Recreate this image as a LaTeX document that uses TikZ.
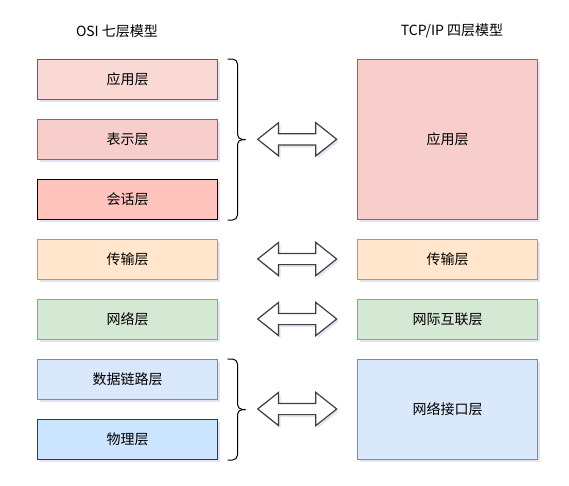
\documentclass[tikz,border=0pt]{standalone}
\usepackage{fontspec}
\setmainfont{Noto Sans CJK SC}
\usetikzlibrary{shapes.arrows, shadows}

\definecolor{appfill}{HTML}{FAD9D5}
\definecolor{appline}{HTML}{AE4132}
\definecolor{prefill}{HTML}{F8CECC}
\definecolor{preline}{HTML}{B85450}
\definecolor{sesfill}{HTML}{FFC4BD}
\definecolor{trafill}{HTML}{FFE6CC}
\definecolor{traline}{HTML}{D79B00}
\definecolor{netfill}{HTML}{D5E8D4}
\definecolor{netline}{HTML}{82B366}
\definecolor{linkfill}{HTML}{DAE8FC}
\definecolor{linkline}{HTML}{6C8EBF}
\definecolor{phyfill}{HTML}{CCE5FF}
\definecolor{phyline}{HTML}{36393D}

\tikzstyle{layer} = [rectangle, minimum width=180pt, minimum height=40pt, text centered, line width=1pt, font=\fontsize{14}{16}\selectfont, drop shadow={shadow xshift=2pt, shadow yshift=-2.5pt, fill=black!40!blue!30, opacity=0.35}]
\tikzstyle{title} = [font=\fontsize{14}{16}\selectfont]
\tikzstyle{both} = [double arrow, draw=black!75, fill=white, line width=1.2pt, inner sep=5pt, minimum height=79pt, double arrow head extend=11pt, double arrow tip angle=77, drop shadow={shadow xshift=2pt, shadow yshift=-2.5pt, fill=black!40!blue!30, opacity=0.35}]
\tikzstyle{bracket} = [rounded corners=5pt, line width=1pt]

\begin{document}
\begin{tikzpicture} [x=1pt, y=1pt, node distance=60pt]
\fill[white] (0,0) rectangle (569,-485);
\useasboundingbox (0,0) rectangle (569,-485);

\node (osititle) [title] at (117,-31) {OSI 七层模型};
\node (tcptitle) [title] at (452,-31) {TCP/IP 四层模型};

% OSI
\node (osiapp) [layer, fill=appfill, draw=appline] at (127.5,-79.5) {应用层};
\node (osipre) [layer, fill=prefill, draw=preline, below of=osiapp] {表示层};
\node (osises) [layer, fill=sesfill, draw=black, below of=osipre] {会话层};
\node (ositra) [layer, fill=trafill, draw=traline, below of=osises] {传输层};
\node (osinet) [layer, fill=netfill, draw=netline, below of=ositra] {网络层};
\node (osilink) [layer, fill=linkfill, draw=linkline, below of=osinet] {数据链路层};
\node (osiphy) [layer, fill=phyfill, draw=phyline, below of=osilink] {物理层};

% TCP/IP
\node (tcpapp) [layer, fill=prefill, draw=preline, right of=osipre, xshift=260pt, minimum height=160pt] {应用层};
\node (tcptra) [layer, fill=trafill, draw=traline, right of=ositra, xshift=260pt] {传输层};
\node (tcpnet) [layer, fill=netfill, draw=netline, right of=osinet, xshift=260pt] {网际互联层};
\node (tcplink) [layer, fill=linkfill, draw=linkline, right of=osilink, xshift=260pt, yshift=-30pt, minimum height=100pt] {网络接口层};

\node (appmap) [both] at (297.2,-139.3) {};
\node (tramap) [both] at (297.2,-259) {};
\node (netmap) [both] at (297.2,-319) {};
\node (linkmap) [both] at (297.2,-409) {};

% braces
\coordinate (appmid) at (osipre.east);
\coordinate (linkmid) at (osilink.east |- tcplink.west);
\draw [bracket] ([xshift=9.5pt]osiapp.north east) -| ([xshift=19.5pt]appmid) -- ([xshift=27.5pt]appmid);
\draw [bracket] ([xshift=27.5pt]appmid) -- ([xshift=19.5pt]appmid) |- ([xshift=9.5pt]osises.south east);
\draw [bracket] ([xshift=9.5pt]osilink.north east) -| ([xshift=19.5pt]linkmid) -- ([xshift=27.5pt]linkmid);
\draw [bracket] ([xshift=27.5pt]linkmid) -- ([xshift=19.5pt]linkmid) |- ([xshift=9.5pt]osiphy.south east);
\end{tikzpicture}
\end{document}
